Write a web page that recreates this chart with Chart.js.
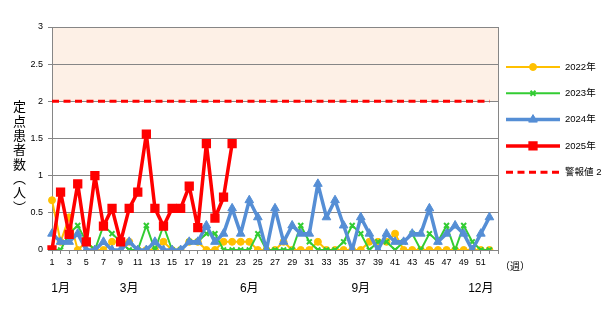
<!DOCTYPE html>
<html lang="ja">
<head>
  <meta charset="UTF-8" />
  <title>定点患者数</title>
  <script src="https://cdn.jsdelivr.net/npm/chart.js"></script>
  <style>
    body { margin: 0; background: #fff; }
    #wrap { position: relative; width: 610px; height: 312px; }
    .ytitle {
      position: absolute; left: 13px; top: 100px;
      writing-mode: vertical-rl; font: 13px "Noto Sans CJK JP", sans-serif;
      line-height: 1; letter-spacing: 1.3px; color: #000;
    }
    .xunit {
      position: absolute; left: 500px; top: 258px;
      font: 10px "Noto Sans CJK JP", sans-serif; color: #000;
    }
  </style>
</head>
<body>
<div id="wrap">
  <canvas id="chart" width="610" height="312"></canvas>
  <div class="ytitle">定点患者数（人）</div>
  <div class="xunit">（週）</div>
</div>
<script>
  // weeks on the x axis
  const weeks = [1,2,3,4,5,6,7,8,9,10,11,12,13,14,15,16,17,18,19,20,21,22,23,24,25,26,
                 27,28,29,30,31,32,33,34,35,36,37,38,39,40,41,42,43,44,45,46,47,48,49,50,51,52];
  const monthWeeks = [2, 10, 24, 37, 51];
  const monthNames = ['1月', '3月', '6月', '9月', '12月'];
  const seriesNames = ['2022年', '2023年', '2024年', '2025年', '警報値 2'];

  const v2022 = [0.67,0.11,0.44,0,0.11,0,0,0.11,0.11,0.11, 0,0,0,0.11,0,0,0.11,0.11,0,0,
                 0.11,0.11,0.11,0.11,0,0,0,0.11,0,0, 0,0.11,0,0,0,0,0,0.11,0.11,0.11,
                 0.22,0,0,0,0,0,0,0,0,0, 0,0];
  const v2023 = [0,0,0.22,0.33,0.11,0,0.33,0.22,0.11,0, 0,0.33,0,0.33,0,0,0.11,0.11,0.22,0.22,
                 0,0,0,0,0.22,0,0,0,0,0.33, 0.11,0,0,0,0.11,0.33,0.22,0,0.11,0.11,
                 0,0.11,0.22,0,0.22,0.11,0.33,0,0.33,0.11, 0,0];
  const v2024 = [0.22,0.11,0.11,0.22,0,0,0.11,0,0,0.11, 0,0,0.11,0,0,0,0.11,0.11,0.33,0.11,
                 0.22,0.56,0.22,0.67,0.44,0,0.56,0.11,0.33,0.22, 0.22,0.89,0.44,0.67,0.33,0,0.44,0.22,0,0.22,
                 0.11,0.11,0.22,0.22,0.56,0.11,0.22,0.33,0.22,0, 0.22,0.44];
  const v2025 = [0,0.78,0.21,0.89,0.11,1.0,0.32,0.56,0.11,0.56, 0.78,1.56,0.56,0.32,0.56,0.56,0.86,0.30,1.43,0.43,
                 0.71,1.43];
  const alertLevel = 2;
  const yTicksMax = 3;
  const yStep = 0.5;

  const labels = weeks.map(String).concat(['']);

  // peach band above the alert level, plus the right frame line
  const bandPlugin = {
    id: 'band',
    beforeDraw(chart) {
      const { ctx, chartArea, scales: { y } } = chart;
      const top = y.getPixelForValue(yTicksMax);
      const bot = y.getPixelForValue(alertLevel);
      ctx.save();
      ctx.fillStyle = '#FDF0E6';
      ctx.fillRect(chartArea.left, top, chartArea.right - chartArea.left, bot - top);
      ctx.strokeStyle = '#868686';
      ctx.lineWidth = 1;
      ctx.beginPath();
      ctx.moveTo(chartArea.right + 0.5, chartArea.top);
      ctx.lineTo(chartArea.right + 0.5, chartArea.bottom);
      ctx.stroke();
      ctx.restore();
    }
  };

  // legend with line + marker samples, on the right
  const legendPlugin = {
    id: 'sideLegend',
    afterDraw(chart) {
      const { ctx, chartArea } = chart;
      const x1 = chartArea.right + 8, len = 54;
      chart.data.datasets.forEach((ds, i) => {
        const y = 67 + i * 26.3;
        ctx.save();
        ctx.strokeStyle = ds.borderColor;
        ctx.fillStyle = ds.borderColor;
        ctx.lineWidth = ds.borderWidth;
        ctx.setLineDash(ds.borderDash || []);
        ctx.beginPath();
        ctx.moveTo(x1, y);
        ctx.lineTo(x1 + len, y);
        ctx.stroke();
        ctx.setLineDash([]);
        if (ds.pointRadius > 0) {
          ctx.lineWidth = ds.pointBorderWidth;
          Chart.helpers.drawPoint(ctx, {
            pointStyle: ds.pointStyle, radius: ds.pointRadius,
            borderWidth: ds.pointBorderWidth, rotation: 0
          }, x1 + len / 2, y);
        }
        ctx.fillStyle = '#000';
        ctx.font = "9.5px 'Liberation Sans', 'Noto Sans CJK JP', sans-serif";
        ctx.textBaseline = 'middle';
        ctx.fillText(ds.label, x1 + len + 5, y);
        ctx.restore();
      });
    }
  };

  Chart.defaults.font.family = "'Liberation Sans', 'Noto Sans CJK JP', sans-serif";
  Chart.defaults.color = '#000';

  new Chart(document.getElementById('chart'), {
    type: 'line',
    data: {
      labels: labels,
      datasets: [
        {
          label: seriesNames[0], data: v2022, order: 4,
          borderColor: '#FFC000', backgroundColor: '#FFC000', borderWidth: 2,
          pointStyle: 'circle', pointRadius: 3.5, pointBorderWidth: 1
        },
        {
          label: seriesNames[1], data: v2023, order: 3,
          borderColor: '#33CC33', backgroundColor: '#33CC33', borderWidth: 2,
          pointStyle: 'crossRot', pointRadius: 3.5, pointBorderWidth: 2
        },
        {
          label: seriesNames[2], data: v2024, order: 2,
          borderColor: '#558ED5', backgroundColor: '#558ED5', borderWidth: 3.5,
          pointStyle: 'triangle', pointRadius: 5, pointBorderWidth: 1
        },
        {
          label: seriesNames[3], data: v2025, order: 1,
          borderColor: '#FF0000', backgroundColor: '#FF0000', borderWidth: 3.5,
          pointStyle: 'rect', pointRadius: 5.5, pointBorderWidth: 1.5
        },
        {
          label: seriesNames[4],
          data: [{ x: String(weeks[0]), y: alertLevel }, { x: String(weeks[weeks.length - 1]), y: alertLevel }],
          order: 0,
          borderColor: '#FF0000', borderWidth: 3, borderDash: [7, 4.5],
          borderJoinStyle: 'miter', borderCapStyle: 'butt',
          pointRadius: 0, pointBorderWidth: 0
        }
      ]
    },
    options: {
      responsive: false,
      animation: false,
      devicePixelRatio: 1,
      layout: { padding: { top: 27, right: 112, bottom: 0, left: 0 } },
      plugins: { legend: { display: false }, tooltip: { enabled: false } },
      elements: { line: { tension: 0, borderJoinStyle: 'round', borderCapStyle: 'round' } },
      scales: {
        y: {
          min: 0, max: yTicksMax,
          ticks: { stepSize: yStep, padding: 5, font: { size: 9 }, callback: v => String(v) },
          grid: { color: '#868686', tickLength: 4 },
          border: { color: '#868686' },
          afterFit: s => { s.width = 52; }
        },
        x: {
          type: 'category', offset: false, weight: 0,
          grid: { drawOnChartArea: false, tickLength: 4, color: '#868686' },
          border: { color: '#868686' },
          ticks: {
            autoSkip: false, maxRotation: 0, padding: 3, font: { size: 9 },
            callback: function (value, index) {
              const w = weeks[index];
              return (w && w % 2 === 1) ? String(w) : '';
            }
          },
          afterFit: s => { s.height = 24; }
        },
        x2: {
          type: 'category', position: 'bottom', offset: false, weight: 1,
          grid: { display: false, drawTicks: false },
          border: { display: false },
          ticks: {
            autoSkip: false, maxRotation: 0, padding: 7,
            font: { size: 12 },
            callback: function (value, index) {
              const k = monthWeeks.indexOf(weeks[index]);
              return k >= 0 ? monthNames[k] : '';
            }
          },
          afterFit: s => { s.height = 38; }
        }
      }
    },
    plugins: [bandPlugin, legendPlugin]
  });
</script>
</body>
</html>
